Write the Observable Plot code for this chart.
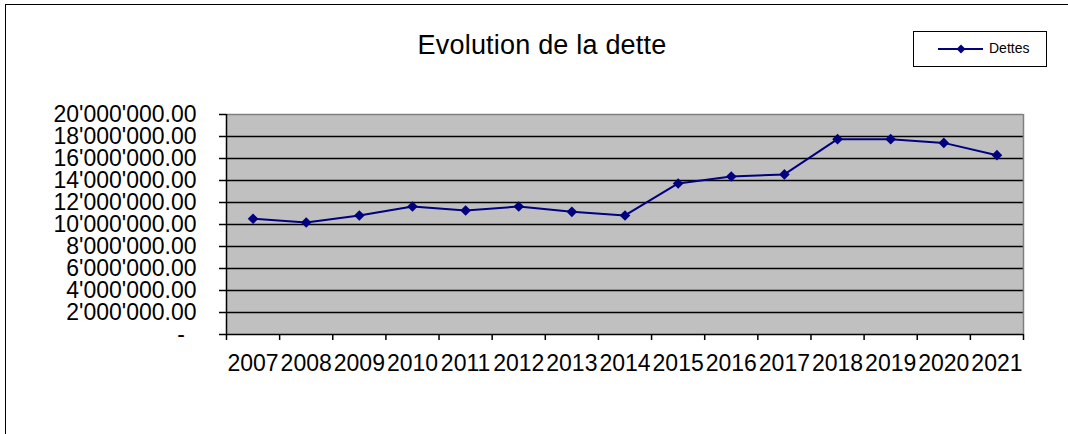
<!DOCTYPE html>
<html>
<head>
<meta charset="utf-8">
<script src="https://cdn.jsdelivr.net/npm/d3@7"></script>
<script src="https://cdn.jsdelivr.net/npm/@observablehq/plot@0.6"></script>
<style>
  html, body { margin: 0; padding: 0; background: #fff; }
  #wrap { position: relative; width: 1068px; height: 434px; overflow: hidden; font-family: "Liberation Sans", Arial, sans-serif; }
  #outer { position: absolute; left: 5px; top: 4px; width: 1100px; height: 500px; border-left: 1.5px solid #000; border-top: 1.5px solid #000; box-sizing: border-box; }
  #title { position: absolute; left: 542px; top: 32px; transform: translateX(-50%); font-size: 27px; line-height: 27px; letter-spacing: 0.2px; white-space: nowrap; color: #000; }
  #legend { position: absolute; left: 913px; top: 31px; width: 134px; height: 36px; border: 1.5px solid #000; box-sizing: border-box; background: #fff; }
  #legend svg { position: absolute; left: 0; top: 0; }
  #legend span { position: absolute; left: 75px; top: 9px; font-size: 14px; line-height: 14px; }
  #chart { position: absolute; left: 0; top: 0; }
</style>
</head>
<body>
<div id="wrap">
  <div id="outer"></div>
  <div id="chart"></div>
  <div id="title"></div>
  <div id="legend"></div>
</div>
<script>
const title = "Evolution de la dette";
const seriesName = "Dettes";
const years = [2007, 2008, 2009, 2010, 2011, 2012, 2013, 2014, 2015, 2016, 2017, 2018, 2019, 2020, 2021];
const dettes = [10520000, 10180000, 10820000, 11640000, 11270000, 11640000, 11150000, 10820000, 13730000, 14360000, 14550000, 17760000, 17760000, 17420000, 16300000];
const yTicks = [0, 2000000, 4000000, 6000000, 8000000, 10000000, 12000000, 14000000, 16000000, 18000000, 20000000];

const data = years.map((y, i) => ({year: y, value: dettes[i]}));
const boundaries = [years[0] - 0.5, ...years.map(y => y + 0.5)];
const navy = "#000080";
const fmtNum = d3.format(",.2f");
const yFmt = d => d === 0 ? "-\u2002" : fmtNum(d).replace(/,/g, "'");

const chart = Plot.plot({
  width: 1068,
  height: 434,
  marginLeft: 226,
  marginRight: 45,
  marginTop: 114,
  marginBottom: 100,
  style: {fontFamily: "'Liberation Sans', Arial, sans-serif", fontSize: "23px", color: "#000", background: "transparent", overflow: "visible"},
  x: {type: "linear", domain: [boundaries[0], boundaries[boundaries.length - 1]]},
  y: {domain: [yTicks[0], yTicks[yTicks.length - 1]]},
  marks: [
    Plot.frame({fill: "#c0c0c0", stroke: "none"}),
    Plot.gridY(yTicks.slice(1, -1), {stroke: "#000", strokeOpacity: 1, strokeWidth: 1.5}),
    Plot.ruleY([yTicks[yTicks.length - 1]], {stroke: "#808080", strokeWidth: 1.5}),
    Plot.ruleX([boundaries[boundaries.length - 1]], {stroke: "#808080", strokeWidth: 1.5}),
    Plot.ruleY([yTicks[0]], {stroke: "#000", strokeWidth: 1.5}),
    Plot.ruleX([boundaries[0]], {stroke: "#000", strokeWidth: 1.5}),
    Plot.axisY(yTicks, {tickSize: 7, tickPadding: 23, tickFormat: yFmt, label: null, strokeWidth: 1.5, fontSize: 23}),
    Plot.axisX(boundaries, {tickSize: 6, tickFormat: () => "", label: null, strokeWidth: 1.5}),
    Plot.axisX(years, {tickSize: 0, tickPadding: 20, tickFormat: d => String(d), label: null, fontSize: 23}),
    Plot.line(data, {x: "year", y: "value", stroke: navy, strokeWidth: 2}),
    Plot.dot(data, {x: "year", y: "value", symbol: "diamond2", r: 4.8, fill: navy, stroke: "none"})
  ]
});
document.getElementById("chart").appendChild(chart);
document.getElementById("title").textContent = title;

const legend = document.getElementById("legend");
legend.innerHTML = `<svg width="134" height="36"><line x1="24" y1="17" x2="69" y2="17" stroke="${navy}" stroke-width="2"></line><path d="M47,12.5L51.5,17L47,21.5L42.5,17Z" fill="${navy}"></path></svg><span></span>`;
legend.querySelector("span").textContent = seriesName;
</script>
</body>
</html>
